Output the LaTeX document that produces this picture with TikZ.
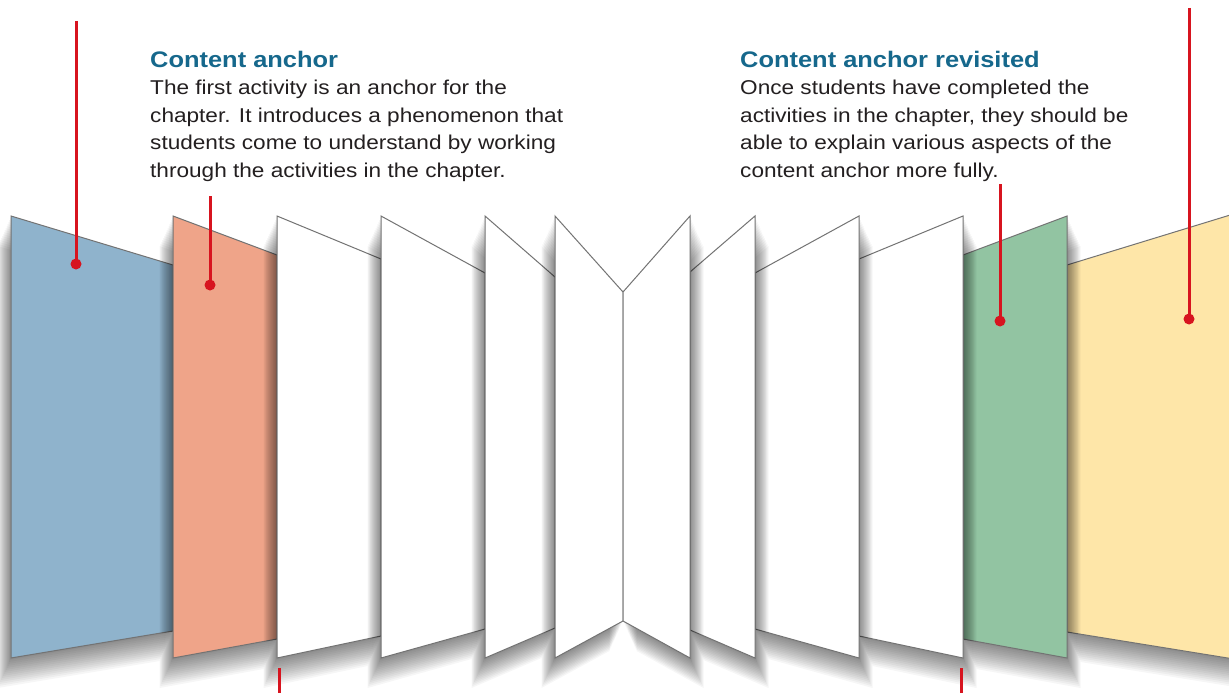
\documentclass[tikz,border=0pt]{standalone}
\usepackage{fontspec}
\setmainfont{Liberation Sans}[FakeStretch=1.13]
\definecolor{anchorblue}{RGB}{143,179,204}
\definecolor{anchorsalmon}{RGB}{239,164,137}
\definecolor{anchorgreen}{RGB}{146,196,162}
\definecolor{anchoryellow}{RGB}{254,230,168}
\definecolor{pinred}{RGB}{215,20,31}
\definecolor{headblue}{RGB}{22,104,140}
\definecolor{bodygray}{RGB}{35,31,32}
\tikzset{
  line cap=round,
  page/.style={draw=black!55, line width=1pt, fill=white},
  shade step/.style={fill=black, opacity=0.035},
  pin/.style={draw=pinred, line width=3pt, line cap=butt},
  point/.style={circle, fill=pinred, inner sep=0pt, minimum size=11pt},
  heading/.style={anchor=base west, inner sep=0pt, text=headblue, font=\fontsize{22.5}{26}\selectfont\bfseries},
  note/.style={anchor=base west, inner sep=0pt, align=left, text=bodygray, font=\fontsize{20}{27.4}\selectfont}
}
% a sheet of the book with its soft shadow: #1 fill, #2 side of the shadow (-1 left, 1 right), #3 outline
\newcommand{\sheet}[3]{%
  \foreach \k in {1,...,15}{\fill[shade step, shift={(#2*\k*0.9,\k*2)}] #3 -- cycle;}
  \filldraw[page, fill=#1] #3 -- cycle;
}
\begin{document}
\begin{tikzpicture}[x=1pt, y=-1pt]
    % white sheet, fixes the size
    \fill[white] (0,0) rectangle (1229,693);
    \useasboundingbox (0,0) rectangle (1229,693);

    % left half of the book, back to front
    \sheet{anchorblue}{-1}{(11,216) -- (173,265) -- (173,631) -- (11,658)}
    \sheet{anchorsalmon}{-1}{(173,216) -- (277,255) -- (277,639) -- (173,658)}
    \sheet{white}{-1}{(277,216) -- (381,259) -- (381,636) -- (277,658)}
    \sheet{white}{-1}{(381,216) -- (485,273) -- (485,629) -- (381,658)}
    \sheet{white}{-1}{(485,216) -- (555,277) -- (555,628) -- (485,658)}
    \sheet{white}{-1}{(555,216) -- (623,292) -- (623,621) -- (555,658)}

    % right half of the book, back to front
    \sheet{anchoryellow}{1}{(1240,212) -- (1067,265) -- (1067,632) -- (1240,660)}
    \sheet{anchorgreen}{1}{(1067,216) -- (963,255) -- (963,639) -- (1067,658)}
    \sheet{white}{1}{(963,216) -- (859,259) -- (859,636) -- (963,658)}
    \sheet{white}{1}{(859,216) -- (755,273) -- (755,629) -- (859,658)}
    \sheet{white}{1}{(755,216) -- (690,272) -- (690,630) -- (755,658)}
    \sheet{white}{1}{(690,216) -- (623,292) -- (623,621) -- (690,658)}

    % captions (base of a note = its last line)
    \node[heading] (atitle) at (150,67) {Content anchor};
    \node[note] (abody) at (150,177) {The first activity is an anchor for the\\
      chapter. It introduces a phenomenon that\\
      students come to understand by working\\
      through the activities in the chapter.};
    \node[heading] (rtitle) at (740,67) {Content anchor revisited};
    \node[note] (rbody) at (740,177) {Once students have completed the\\
      activities in the chapter, they should be\\
      able to explain various aspects of the\\
      content anchor more fully.};

    % red pins
    \node[point] (bluedot) at (76,264) {};
    \node[point] (salmondot) at (210,285) {};
    \node[point] (greendot) at (1000,321) {};
    \node[point] (yellowdot) at (1189,319) {};
    \coordinate (bluetop) at (76,21);
    \coordinate (salmontop) at (210,196);
    \coordinate (greentop) at (1000,184);
    \coordinate (yellowtop) at (1189,8);
    \draw[pin] (bluetop) -- (bluedot.center);
    \draw[pin] (salmontop) -- (salmondot.center);
    \draw[pin] (greentop) -- (greendot.center);
    \draw[pin] (yellowtop) -- (yellowdot.center);

    % stubs under the book
    \coordinate (lstubtop) at (279,668);
    \coordinate (lstubend) at (279,700);
    \coordinate (rstubtop) at (961,668);
    \coordinate (rstubend) at (961,700);
    \draw[pin] (lstubtop) -- (lstubend);
    \draw[pin] (rstubtop) -- (rstubend);
\end{tikzpicture}
\end{document}
